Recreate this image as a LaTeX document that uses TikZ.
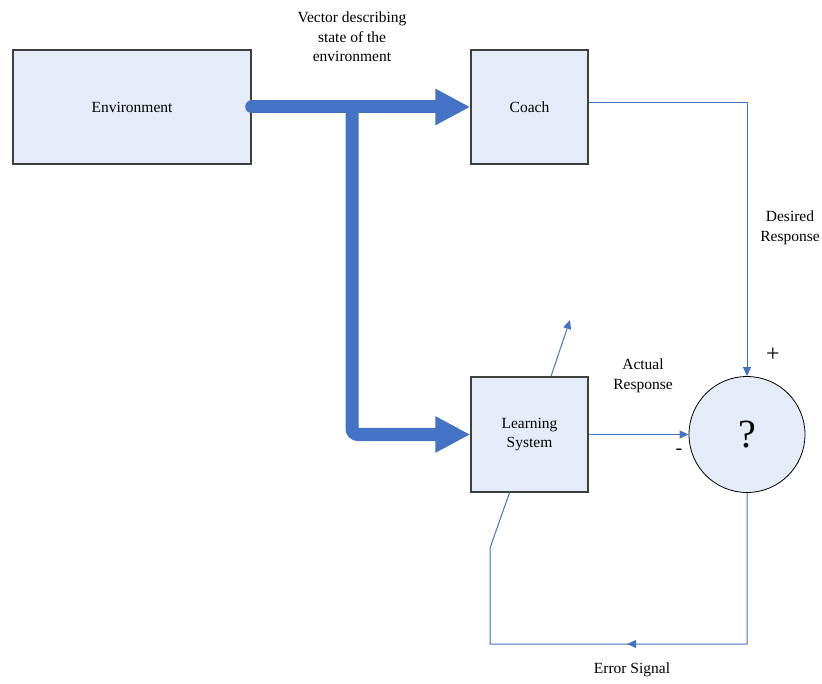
\documentclass[tikz,border=0pt]{standalone}
\usepackage{fontspec}
\setmainfont{Liberation Serif}
\usetikzlibrary{arrows.meta,decorations.markings}
\definecolor{boxfill}{HTML}{E6ECF7}
\definecolor{lineblue}{HTML}{4472C4}
\definecolor{boxdraw}{HTML}{3F3F3F}
\begin{document}
\begin{tikzpicture}[x=1pt,y=-1pt,
  box/.style={draw=boxdraw,line width=1.4pt,fill=boxfill,align=center,inner sep=0pt,font=\fontsize{15.5}{19.5}\selectfont},
  sumnode/.style={circle,draw=black,line width=0.8pt,fill=boxfill,minimum size=116pt,inner sep=0pt,font=\fontsize{40}{44}\selectfont},
  thick arrow/.style={draw=lineblue,line width=13pt,-{Triangle[length=35pt,width=34pt]}},
  thin arrow/.style={draw=lineblue,line width=1pt,-{Triangle[length=9pt,width=8pt]}},
  lbl/.style={align=center,inner sep=0pt,font=\fontsize{15.5}{19.5}\selectfont}]
\useasboundingbox (0,0) rectangle (822,684);
\node[box,minimum width=238pt,minimum height=114pt] (env) at (132,107) {Environment};
\node[box,minimum width=117pt,minimum height=114pt] (coach) at (529.5,107) {Coach};
\node[box,minimum width=117pt,minimum height=115pt] (ls) at (529.5,434.5) {Learning\\System};
\node[sumnode] (sum) at (747,434.5) {?};
\coordinate (split) at (352,106);
\coordinate (out) at (570,320);
\coordinate (e1) at (490,644);
\coordinate (e2) at (490,548);
% thick arrows
\draw[thick arrow,line cap=round] (env.east) -- (coach.west);
\draw[thick arrow,rounded corners=6pt] (split) |- (ls.west);
% thin connectors
\draw[thin arrow] ([yshift=4pt]coach.east) -| (sum.north);
\draw[thin arrow] (ls.east) -- (sum.west);
\draw[thin arrow] ([xshift=21.5pt]ls.north) -- (out);
\draw[draw=lineblue,line width=1pt,
  decoration={markings,mark=at position 271pt with {\arrow{Triangle[length=9pt,width=8pt]}}},
  postaction={decorate}]
  (sum.south) |- (e1) -- (e2) -- ([xshift=-20pt]ls.south);
% labels
\node[lbl] (vec) at (352,37) {Vector describing\\state of the\\environment};
\node[lbl] (des) at (790,228) {Desired\\Response};
\node[lbl] (act) at (643,376) {Actual\\Response};
\node[lbl] (err) at (632,670) {Error Signal};
\node[lbl,font=\fontsize{24}{24}\selectfont] (plus) at (773,355) {+};
\node[lbl,font=\fontsize{20}{20}\selectfont] (minus) at (679,452) {-};
\end{tikzpicture}
\end{document}
